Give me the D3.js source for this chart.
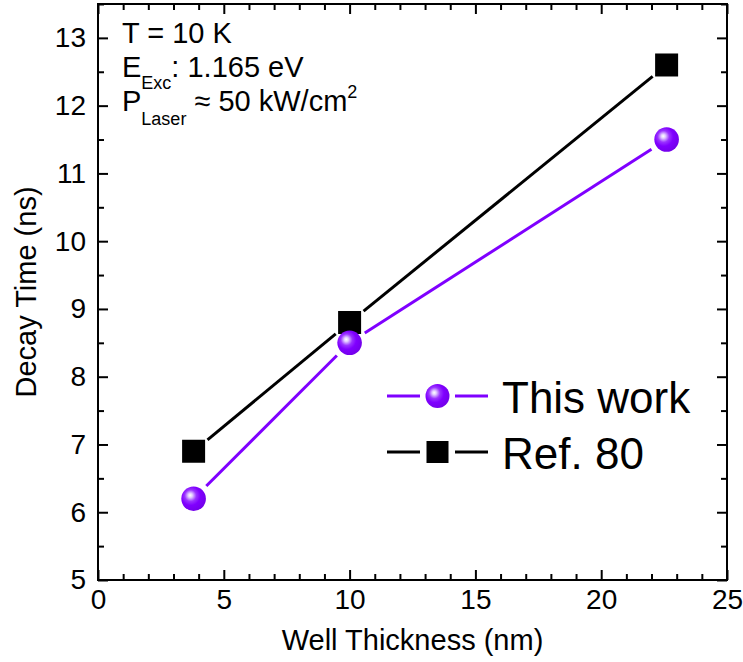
<!DOCTYPE html>
<html>
<head>
<meta charset="utf-8">
<script src="https://cdn.jsdelivr.net/npm/d3@7"></script>
<style>
  body { margin: 0; background: #fff; }
  svg { font-family: "Liberation Sans", Arial, sans-serif; }
</style>
</head>
<body>
<div id="chart"></div>
<script>
// data
const thickness = [3.8, 10, 22.6];
const thisWork = [6.2, 8.5, 11.5];
const ref80 = [6.9, 8.8, 12.6];
const xTicks = [0, 5, 10, 15, 20, 25];
const yTicks = [5, 6, 7, 8, 9, 10, 11, 12, 13];
const seriesNames = ["This work", "Ref. 80"];

const width = 743, height = 662;
const margin = { left: 98, right: 16, top: 4, bottom: 82 };
const innerWidth = width - margin.left - margin.right,
      innerHeight = height - margin.top - margin.bottom;

const purple = "#7f00ff";

const svg = d3.select("#chart").append("svg")
    .attr("width", width)
    .attr("height", height);

// sphere look for the purple markers
const defs = svg.append("defs");
const grad = defs.append("radialGradient")
    .attr("id", "sphere")
    .attr("cx", "0.4").attr("cy", "0.4").attr("r", "0.62")
    .attr("fx", "0.36").attr("fy", "0.36");
grad.append("stop").attr("offset", "0").attr("stop-color", "#ffffff");
grad.append("stop").attr("offset", "0.14").attr("stop-color", "#e2ccff");
grad.append("stop").attr("offset", "0.38").attr("stop-color", "#9a33ff");
grad.append("stop").attr("offset", "0.62").attr("stop-color", "#8000ff");
grad.append("stop").attr("offset", "1").attr("stop-color", "#7300ea");

const g = svg.append("g")
    .attr("transform", "translate(" + margin.left + "," + margin.top + ")");

const xScale = d3.scaleLinear().domain([0, 25]).range([0, innerWidth]);
const yScale = d3.scaleLinear().domain([5, 13.5]).range([innerHeight, 0]);

const xMinor = d3.range(0, 26, 1).filter(d => d % 5 !== 0);
const yMinor = d3.range(5, 13.51, 0.5).filter(d => d % 1 !== 0);

function styleAxis(sel) {
    sel.select(".domain").remove();
    sel.selectAll("line").attr("stroke", "#000").attr("stroke-width", 2);
    sel.selectAll("text").attr("fill", "#000").attr("font-size", 28);
}
// tick-only axes: drop the empty labels
function ticksOnly(sel) {
    styleAxis(sel);
    sel.selectAll("text").remove();
}

// bottom axis with labels
g.append("g")
    .attr("transform", "translate(0," + innerHeight + ")")
    .call(d3.axisBottom(xScale).tickValues(xTicks).tickSizeInner(-10).tickSizeOuter(0).tickPadding(9))
    .call(styleAxis);
g.append("g")
    .attr("transform", "translate(0," + innerHeight + ")")
    .call(d3.axisBottom(xScale).tickValues(xMinor).tickSizeInner(-6).tickSizeOuter(0))
    .call(ticksOnly);

// top mirror
g.append("g")
    .call(d3.axisTop(xScale).tickValues(xTicks).tickSizeInner(-10).tickSizeOuter(0))
    .call(ticksOnly);
g.append("g")
    .call(d3.axisTop(xScale).tickValues(xMinor).tickSizeInner(-6).tickSizeOuter(0))
    .call(ticksOnly);

// left axis with labels
g.append("g")
    .call(d3.axisLeft(yScale).tickValues(yTicks).tickSizeInner(-10).tickSizeOuter(0).tickPadding(12))
    .call(styleAxis);
g.append("g")
    .call(d3.axisLeft(yScale).tickValues(yMinor).tickSizeInner(-6).tickSizeOuter(0))
    .call(ticksOnly);

// right mirror
g.append("g")
    .attr("transform", "translate(" + innerWidth + ",0)")
    .call(d3.axisRight(yScale).tickValues(yTicks).tickSizeInner(-10).tickSizeOuter(0))
    .call(ticksOnly);
g.append("g")
    .attr("transform", "translate(" + innerWidth + ",0)")
    .call(d3.axisRight(yScale).tickValues(yMinor).tickSizeInner(-6).tickSizeOuter(0))
    .call(ticksOnly);

// frame
g.append("rect")
    .attr("width", innerWidth)
    .attr("height", innerHeight)
    .attr("fill", "none")
    .attr("stroke", "#000")
    .attr("stroke-width", 2);

// axis titles
svg.append("text")
    .attr("x", margin.left + innerWidth / 2)
    .attr("y", 650)
    .attr("text-anchor", "middle")
    .attr("font-size", 29)
    .text("Well Thickness (nm)");

svg.append("text")
    .attr("transform", "translate(36," + (margin.top + innerHeight / 2) + ") rotate(-90)")
    .attr("text-anchor", "middle")
    .attr("font-size", 29)
    .text("Decay Time (ns)");

// connecting lines with a gap around each marker, Origin style
const gap = 18;
function drawSegments(ys, color) {
    const pts = thickness.map((x, i) => [xScale(x), yScale(ys[i])]);
    for (let i = 0; i < pts.length - 1; i++) {
        const [x0, y0] = pts[i], [x1, y1] = pts[i + 1];
        const len = Math.hypot(x1 - x0, y1 - y0);
        const ux = (x1 - x0) / len, uy = (y1 - y0) / len;
        g.append("line")
            .attr("x1", x0 + ux * gap).attr("y1", y0 + uy * gap)
            .attr("x2", x1 - ux * gap).attr("y2", y1 - uy * gap)
            .attr("stroke", color)
            .attr("stroke-width", 3);
    }
}
drawSegments(thisWork, purple);
drawSegments(ref80, "#000");

const sq = 23;
g.selectAll(".sq")
    .data(thickness)
    .enter().append("rect")
    .attr("class", "sq")
    .attr("x", d => xScale(d) - sq / 2)
    .attr("y", (d, i) => yScale(ref80[i]) - sq / 2)
    .attr("width", sq)
    .attr("height", sq)
    .attr("fill", "#000");

g.selectAll(".ball")
    .data(thickness)
    .enter().append("circle")
    .attr("class", "ball")
    .attr("cx", d => xScale(d))
    .attr("cy", (d, i) => yScale(thisWork[i]))
    .attr("r", 12.3)
    .attr("fill", "url(#sphere)");

// legend
const legend = svg.append("g").attr("transform", "translate(387,396)");
seriesNames.forEach(function(name, i) {
    const row = legend.append("g").attr("transform", "translate(0," + (i * 56) + ")");
    const color = i === 0 ? purple : "#000";
    row.append("line").attr("x1", 0).attr("x2", 33).attr("stroke", color).attr("stroke-width", 3);
    row.append("line").attr("x1", 68).attr("x2", 101).attr("stroke", color).attr("stroke-width", 3);
    if (i === 0) {
        row.append("circle").attr("cx", 50.5).attr("r", 12).attr("fill", "url(#sphere)");
    } else {
        row.append("rect").attr("x", 50.5 - 11).attr("y", -11).attr("width", 22).attr("height", 22).attr("fill", "#000");
    }
    row.append("text")
        .attr("x", 115)
        .attr("y", 17)
        .attr("font-size", 44)
        .text(name);
});

// condition annotation
const note = svg.append("g").attr("font-size", 29);
note.append("text").attr("x", 122).attr("y", 43).text("T = 10 K");

const e = note.append("text").attr("x", 122).attr("y", 77);
e.append("tspan").text("E");
e.append("tspan").attr("font-size", 18).attr("dy", 12).text("Exc");
e.append("tspan").attr("dy", -12).text(": 1.165 eV");

const p = note.append("text").attr("x", 122).attr("y", 111);
p.append("tspan").text("P");
p.append("tspan").attr("font-size", 18).attr("dy", 14).text("Laser");
p.append("tspan").attr("dy", -14).text(" \u2248 50 kW/cm");
p.append("tspan").attr("font-size", 18).attr("dy", -13).text("2");
</script>
</body>
</html>
